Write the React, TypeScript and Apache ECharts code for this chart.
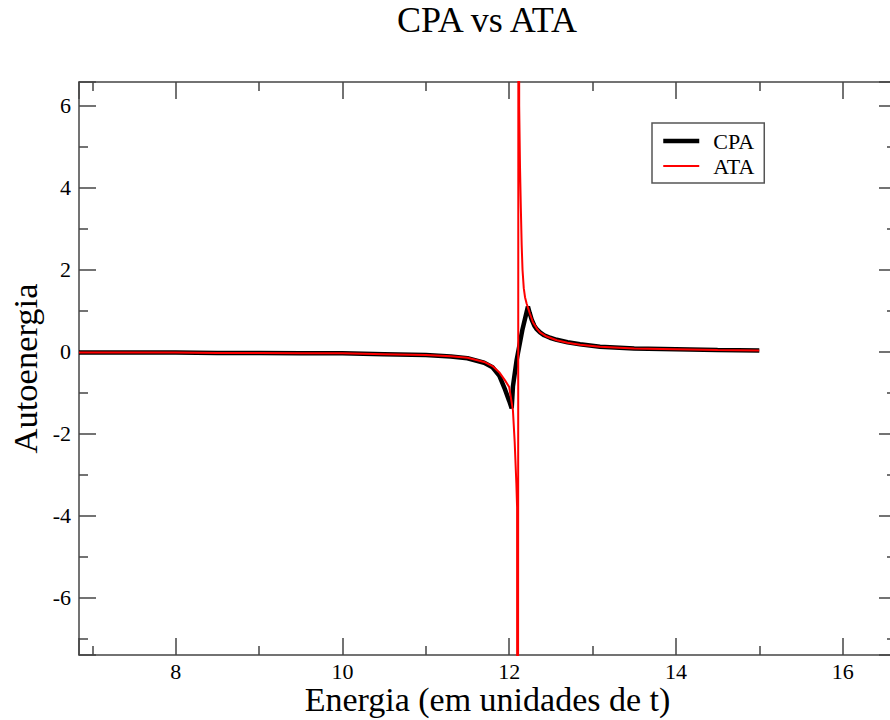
import React, { useEffect, useRef } from "react";
import * as echarts from "echarts";

const titleText = "CPA vs ATA";
const xName = "Energia (em unidades de t)";
const yName = "Autoenergia";
const seriesNames = ["CPA", "ATA"];

const energyCPA = [6.84, 7.5, 8.0, 8.5, 9.0, 9.5, 10.0, 10.5, 11.0, 11.3, 11.5, 11.7, 11.8, 11.88, 11.95, 12.0, 12.03, 12.045, 12.09, 12.16, 12.225, 12.245, 12.27, 12.3, 12.33, 12.37, 12.42, 12.49, 12.57, 12.7, 12.85, 13.09, 13.5, 14.0, 14.5, 15.0];
const sigmaCPA = [-0.02, -0.02, -0.02, -0.03, -0.03, -0.04, -0.04, -0.06, -0.08, -0.12, -0.16, -0.27, -0.38, -0.58, -0.92, -1.2, -1.38, -0.85, -0.2, 0.55, 1.1, 0.95, 0.78, 0.64, 0.55, 0.47, 0.4, 0.34, 0.29, 0.23, 0.18, 0.12, 0.08, 0.06, 0.04, 0.03];

const energyATA = [6.84, 7.5, 8.0, 8.5, 9.0, 9.5, 10.0, 10.5, 11.0, 11.3, 11.5, 11.7, 11.8, 11.88, 11.95, 12.0, 12.045, 12.066, 12.086, 12.095, 12.1, 12.117, 12.12, 12.13, 12.14, 12.15, 12.16, 12.175, 12.19, 12.21, 12.25, 12.285, 12.33, 12.37, 12.45, 12.57, 12.7, 12.85, 13.09, 13.5, 14.0, 14.5, 15.0];
const sigmaATA = [-0.02, -0.02, -0.02, -0.03, -0.03, -0.04, -0.04, -0.06, -0.08, -0.11, -0.15, -0.25, -0.35, -0.5, -0.7, -0.86, -1.43, -2.2, -3.2, -3.8, -40, 40, 6.0, 4.5, 3.5, 2.6, 2.0, 1.55, 1.33, 1.17, 0.92, 0.72, 0.57, 0.47, 0.37, 0.28, 0.22, 0.17, 0.12, 0.08, 0.06, 0.04, 0.03];

const xMin = 6.84;
const xMax = 16.64;
const yMin = -7.4;
const yMax = 6.58;
const majorStep = 2;

const FONT = "Liberation Serif";
const AXIS_COLOR = "#444";

function zip(xs: number[], ys: number[]) {
  return xs.map((x, i) => [x, ys[i]]);
}

function fmt(v: number) {
  return Math.abs(v / majorStep - Math.round(v / majorStep)) < 1e-6 ? String(Math.round(v)) : "";
}

function makeAxis(kind: "x" | "y", position: string, showLabel: boolean) {
  return {
    type: "value",
    position,
    min: kind === "x" ? xMin : yMin,
    max: kind === "x" ? xMax : yMax,
    minInterval: majorStep,
    maxInterval: majorStep,
    splitNumber: 6,
    splitLine: { show: false },
    axisLine: { show: true, onZero: false, lineStyle: { color: AXIS_COLOR, width: 1.5 } },
    axisTick: { show: true, inside: true, length: 17, lineStyle: { color: AXIS_COLOR, width: 1.5 } },
    minorTick: { show: true, splitNumber: 2, length: 9, lineStyle: { color: AXIS_COLOR, width: 1.5 } },
    axisLabel: {
      show: showLabel,
      formatter: fmt,
      color: "#000",
      fontFamily: FONT,
      fontSize: 22,
      lineHeight: 18,
      fontWeight: "normal",
      margin: kind === "x" ? 7 : 8,
      showMinLabel: false,
      showMaxLabel: false,
    },
  };
}

export default function App() {
  const ref = useRef<HTMLDivElement>(null);
  useEffect(() => {
    if (!ref.current) return;
    const chart = echarts.init(ref.current, undefined, { renderer: "svg" });
    const xBottom: any = makeAxis("x", "bottom", true);
    xBottom.name = xName;
    xBottom.nameLocation = "middle";
    xBottom.nameGap = 31;
    xBottom.nameMoveOverlap = false;
    xBottom.nameTextStyle = { fontFamily: FONT, fontSize: 34, lineHeight: 26, color: "#000" };
    const yLeft: any = makeAxis("y", "left", true);
    yLeft.name = yName;
    yLeft.nameLocation = "middle";
    yLeft.nameGap = 37;
    yLeft.nameMoveOverlap = false;
    yLeft.nameTextStyle = { fontFamily: FONT, fontSize: 34.5, color: "#000" };
    chart.setOption({
      animation: false,
      backgroundColor: "#fff",
      textStyle: { fontFamily: FONT, fontSize: 22, color: "#000" },
      title: {
        text: titleText,
        left: 487,
        top: 2,
        padding: 0,
        textAlign: "center",
        textStyle: { fontFamily: FONT, fontSize: 36, fontWeight: "normal", color: "#000" },
      },
      grid: { left: 79, top: 82, right: 9, bottom: 65, containLabel: false, outerBoundsMode: "none" },
      legend: {
        left: 652,
        top: 123,
        orient: "vertical",
        backgroundColor: "#fff",
        borderColor: "#555",
        borderWidth: 1.5,
        borderRadius: 0,
        padding: [7, 10, 6, 9],
        itemGap: 3,
        itemWidth: 36,
        itemHeight: 20,
        textStyle: { fontFamily: FONT, fontSize: 22, color: "#000", lineHeight: 20, padding: [0, 0, 0, 9] },
        data: [
          { name: seriesNames[0], itemStyle: { opacity: 0 }, lineStyle: { width: 4.5, color: "#000" } },
          { name: seriesNames[1], itemStyle: { opacity: 0 }, lineStyle: { width: 2, color: "#ff0000" } },
        ],
      },
      xAxis: [xBottom, makeAxis("x", "top", false)],
      yAxis: [yLeft, makeAxis("y", "right", false)],
      series: [
        {
          name: seriesNames[0],
          type: "line",
          xAxisIndex: 0,
          yAxisIndex: 0,
          symbol: "none",
          clip: true,
          lineStyle: { color: "#000", width: 4.5 },
          itemStyle: { color: "#000" },
          data: zip(energyCPA, sigmaCPA),
        },
        {
          name: seriesNames[1],
          type: "line",
          xAxisIndex: 0,
          yAxisIndex: 0,
          symbol: "none",
          clip: true,
          lineStyle: { color: "#ff0000", width: 2 },
          itemStyle: { color: "#ff0000" },
          data: zip(energyATA, sigmaATA),
        },
      ],
    });
    return () => chart.dispose();
  }, []);
  return (
    <div style={{ position: "absolute", left: 0, top: 0, width: 890, height: 720, overflow: "hidden", background: "#fff" }}>
      <div ref={ref} style={{ width: 905, height: 720 }} />
    </div>
  );
}
